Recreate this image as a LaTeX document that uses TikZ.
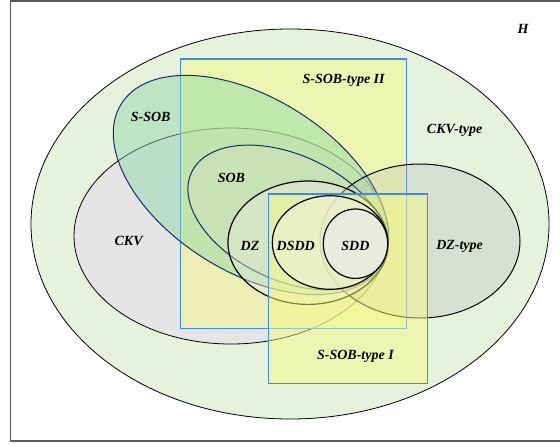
\documentclass[tikz,border=0pt]{standalone}
\usepackage{fontspec}
\setmainfont{Liberation Serif}
\usepackage{xcolor}
\usepackage{tikz}
\definecolor{hfill}{RGB}{230,242,220}
\definecolor{ckvfill}{RGB}{229,229,229}
\definecolor{typefill}{RGB}{245,250,135}
\definecolor{ssobfill}{RGB}{140,215,165}
\definecolor{sobfill}{RGB}{215,225,195}
\definecolor{dzfill}{RGB}{232,236,220}
\definecolor{dsddfill}{RGB}{238,240,218}
\definecolor{sddfill}{RGB}{235,235,226}
\definecolor{boxblue}{RGB}{60,140,240}
\definecolor{navy}{RGB}{20,45,110}
\definecolor{framegray}{RGB}{90,90,90}
\tikzstyle{setline} = [draw=black, line width=0.8pt]
\tikzstyle{coreline} = [draw=black, line width=1.2pt]
\tikzstyle{navyline} = [draw=navy, line width=1pt]
\tikzstyle{typebox} = [draw=boxblue, line width=1.3pt, fill=typefill, fill opacity=0.5]
\tikzstyle{setlabel} = [font=\fontsize{14}{14}\selectfont\bfseries\itshape, text=black, inner sep=0pt]

\begin{document}
\begin{tikzpicture}[x=1pt, y=-1pt]
    \useasboundingbox (0,0) rectangle (560,445);
    \draw[framegray, line width=1.2pt] (562,1) -- (10.5,1) -- (10.5,441) -- (562,441);

    % Outer set and CKV
    \draw[setline, fill=hfill] (290,224) ellipse [x radius=259, y radius=195];
    \draw[setline, fill=ckvfill] (231,236) ellipse [x radius=157, y radius=108];

    % S-SOB-type II box
    \draw[typebox] (180.5,59) rectangle (406.5,328.5);

    % Nested sets, all touching on the right
    \draw[navyline, fill=ssobfill, fill opacity=0.45, rotate around={-32:(251,185)}]
        (251,185) ellipse [x radius=153, y radius=87];
    \draw[navyline, fill=sobfill, fill opacity=0.4, rotate around={-25:(288,217.5)}]
        (288,217.5) ellipse [x radius=106.5, y radius=62.6];
    \draw[setline, line width=1pt, fill=gray!60, fill opacity=0.25] (420,241) ellipse [x radius=100, y radius=77];
    \draw[coreline, fill=dzfill, fill opacity=0.4] (308,242.7) ellipse [x radius=80, y radius=61.7];

    % S-SOB-type I box
    \draw[typebox] (268.5,194) rectangle (427.5,383.5);

    \draw[coreline, fill=dsddfill, fill opacity=0.6] (330,242.5) ellipse [x radius=57.7, y radius=46.8];
    \draw[coreline, fill=sddfill, fill opacity=0.9] (355.5,243.7) ellipse [x radius=32.2, y radius=34.7];

    % Labels
    \node[setlabel] (hlab) at (523,29) {H};
    \node[setlabel] (typetwolab) at (343.6,80) {S-SOB-type II};
    \node[setlabel] (ssoblab) at (150.7,116.7) {S-SOB};
    \node[setlabel] (ckvtypelab) at (454.6,130) {CKV-type};
    \node[setlabel] (soblab) at (231.4,178.3) {SOB};
    \node[setlabel] (ckvlab) at (128.6,240.7) {CKV};
    \node[setlabel] (dzlab) at (250,246) {DZ};
    \node[setlabel] (dsddlab) at (295.7,246) {DSDD};
    \node[setlabel] (sddlab) at (355.4,246) {SDD};
    \node[setlabel] (dztypelab) at (459.6,246) {DZ-type};
    \node[setlabel] (typeonelab) at (355.4,356) {S-SOB-type I};
\end{tikzpicture}
\end{document}
